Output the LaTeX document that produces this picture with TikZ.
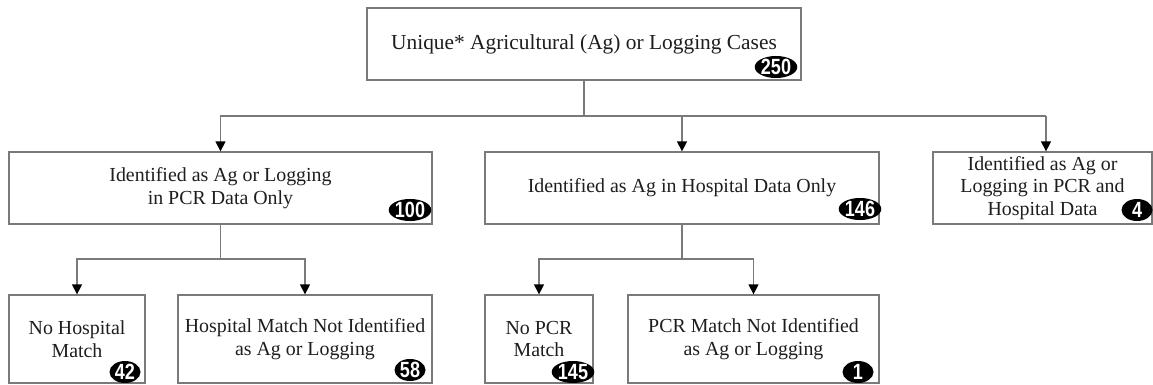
\documentclass[tikz,border=0pt]{standalone}
\usepackage{fontspec}
\setmainfont{Liberation Serif}
\newfontfamily\badgefont[FakeStretch=0.82]{Liberation Sans}
\usetikzlibrary{arrows.meta,shapes.geometric}
\definecolor{linegray}{HTML}{7A7A7A}
\definecolor{txt}{HTML}{1E1E1E}
\tikzset{
  box/.style={draw=linegray, line width=1.3pt, fill=white, align=center, text=txt,
    font=\fontsize{19.9}{22.6}\selectfont, inner sep=0pt},
  conn/.style={draw=linegray, line width=1.3pt},
  arr/.style={conn, -{Triangle[width=10pt,length=10pt,color=black]}},
  badge/.style={ellipse, fill=black, text=white, inner sep=0pt, minimum height=22pt,
    minimum width=31pt, font=\badgefont\bfseries\fontsize{22}{22}\selectfont}
}
\begin{document}
\begin{tikzpicture}[x=1pt,y=-1pt]
\useasboundingbox[fill=white] (0,0) rectangle (1153,385);
% boxes
\node[box, font=\fontsize{21.4}{23}\selectfont, minimum width=434pt, minimum height=72pt] (top) at (584,44) {Unique* Agricultural (Ag) or Logging Cases};
\node[box, minimum width=423pt, minimum height=72pt] (pcr) at (220.5,188) {Identified as Ag or Logging\\in PCR Data Only};
\node[box, minimum width=394pt, minimum height=72pt] (hosp) at (682,188) {Identified as Ag in Hospital Data Only};
\node[box, minimum width=219pt, minimum height=72pt] (both) at (1042.5,188) {Identified as Ag or\\Logging in PCR and\\Hospital Data};
\node[box, minimum width=136pt, minimum height=88pt] (nohosp) at (77,339) {No Hospital\\Match};
\node[box, minimum width=254pt, minimum height=88pt] (hospmatch) at (305,339) {Hospital Match Not Identified\\as Ag or Logging};
\node[box, minimum width=108pt, minimum height=88pt] (nopcr) at (539,339) {No PCR\\Match};
\node[box, minimum width=251pt, minimum height=88pt] (pcrmatch) at (753.5,339) {PCR Match Not Identified\\as Ag or Logging};
% junctions
\coordinate (j1) at (584,116);
\coordinate (j2) at (220.5,259);
\coordinate (j3) at (682,259);
\coordinate (jc) at (1046,116);
% connectors
\draw[conn] (top.south) -- (j1);
\draw[arr] (j1) -| (pcr.north);
\draw[arr] (j1) -| (hosp.north);
\draw[conn] (j1) -- (jc);
\draw[arr] (jc) -- (jc |- both.north);
\draw[conn] (pcr.south) -- (j2);
\draw[arr] (j2) -| (nohosp.north);
\draw[arr] (j2) -| (hospmatch.north);
\draw[conn] (hosp.south) -- (j3);
\draw[arr] (j3) -| (nopcr.north);
\draw[arr] (j3) -| (pcrmatch.north);
% badges
\node[badge] (b250) at (776,67) {250};
\node[badge] (b100) at (410,210) {100};
\node[badge] (b146) at (860,209) {146};
\node[badge] (b4) at (1137,210) {4};
\node[badge] (b42) at (125,372) {42};
\node[badge] (b58) at (410,370) {58};
\node[badge] (b145) at (573,372) {145};
\node[badge] (b1) at (858,372) {1};
\end{tikzpicture}
\end{document}
